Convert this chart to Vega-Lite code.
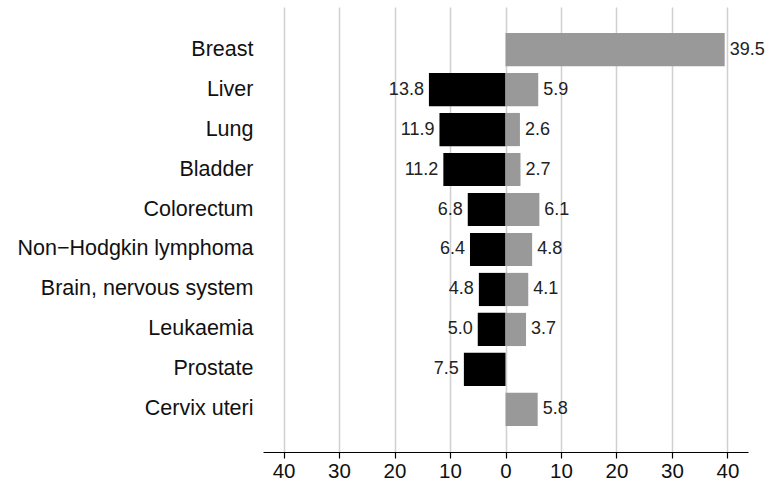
{
  "$schema": "https://vega.github.io/schema/vega-lite/v6.json",
  "width": 485,
  "height": 445,
  "autosize": "none",
  "padding": {"left": 263, "top": 7, "right": 29, "bottom": 31},
  "background": "white",
  "config": {"view": {"stroke": null}, "font": "Liberation Sans"},
  "data": {
    "values": [
      {"site": "Breast", "sex": "Female", "value": 39.5},
      {"site": "Liver", "sex": "Male", "value": -13.8},
      {"site": "Liver", "sex": "Female", "value": 5.9},
      {"site": "Lung", "sex": "Male", "value": -11.9},
      {"site": "Lung", "sex": "Female", "value": 2.6},
      {"site": "Bladder", "sex": "Male", "value": -11.2},
      {"site": "Bladder", "sex": "Female", "value": 2.7},
      {"site": "Colorectum", "sex": "Male", "value": -6.8},
      {"site": "Colorectum", "sex": "Female", "value": 6.1},
      {"site": "Non−Hodgkin lymphoma", "sex": "Male", "value": -6.4},
      {"site": "Non−Hodgkin lymphoma", "sex": "Female", "value": 4.8},
      {"site": "Brain, nervous system", "sex": "Male", "value": -4.8},
      {"site": "Brain, nervous system", "sex": "Female", "value": 4.1},
      {"site": "Leukaemia", "sex": "Male", "value": -5.0},
      {"site": "Leukaemia", "sex": "Female", "value": 3.7},
      {"site": "Prostate", "sex": "Male", "value": -7.5},
      {"site": "Cervix uteri", "sex": "Female", "value": 5.8}
    ]
  },
  "encoding": {
    "y": {
      "field": "site",
      "type": "nominal",
      "sort": ["Breast", "Liver", "Lung", "Bladder", "Colorectum", "Non−Hodgkin lymphoma", "Brain, nervous system", "Leukaemia", "Prostate", "Cervix uteri"],
      "scale": {"paddingInner": 0.17, "paddingOuter": 0.65},
      "axis": {"title": null, "domain": false, "ticks": false, "labelFontSize": 21.5, "labelPadding": 10, "labelLimit": 400, "labelColor": "#111", "grid": false}
    }
  },
  "layer": [
    {
      "mark": {"type": "bar"},
      "encoding": {
        "x": {
          "field": "value",
          "type": "quantitative",
          "scale": {"domain": [-43.7, 43.7], "nice": false, "zero": false},
          "axis": {
            "title": null,
            "values": [-40, -30, -20, -10, 0, 10, 20, 30, 40],
            "labelExpr": "format(abs(datum.value), 'd')",
            "grid": true,
            "gridColor": "#d0d0d0",
            "gridWidth": 1.5,
            "domainColor": "#000",
            "domainWidth": 1.2,
            "tickColor": "#000",
            "tickWidth": 1.2,
            "tickSize": 6,
            "labelFontSize": 20.5,
            "labelColor": "#111",
            "labelPadding": 3
          }
        },
        "color": {
          "field": "sex",
          "type": "nominal",
          "scale": {"domain": ["Male", "Female"], "range": ["#000000", "#999999"]},
          "legend": null
        }
      }
    },
    {
      "mark": {"type": "rule", "color": "#333333", "strokeWidth": 1.5},
      "encoding": {"x": {"datum": 0, "type": "quantitative"}}
    },
    {
      "transform": [{"filter": "datum.sex === 'Male'"}],
      "mark": {"type": "text", "align": "right", "dx": -5, "fontSize": 18, "color": "#222", "text": {"expr": "format(abs(datum.value), '.1f')"}},
      "encoding": {"x": {"field": "value", "type": "quantitative"}}
    },
    {
      "transform": [{"filter": "datum.sex === 'Female'"}],
      "mark": {"type": "text", "align": "left", "dx": 5, "fontSize": 18, "color": "#222", "text": {"expr": "format(abs(datum.value), '.1f')"}},
      "encoding": {"x": {"field": "value", "type": "quantitative"}}
    }
  ]
}
